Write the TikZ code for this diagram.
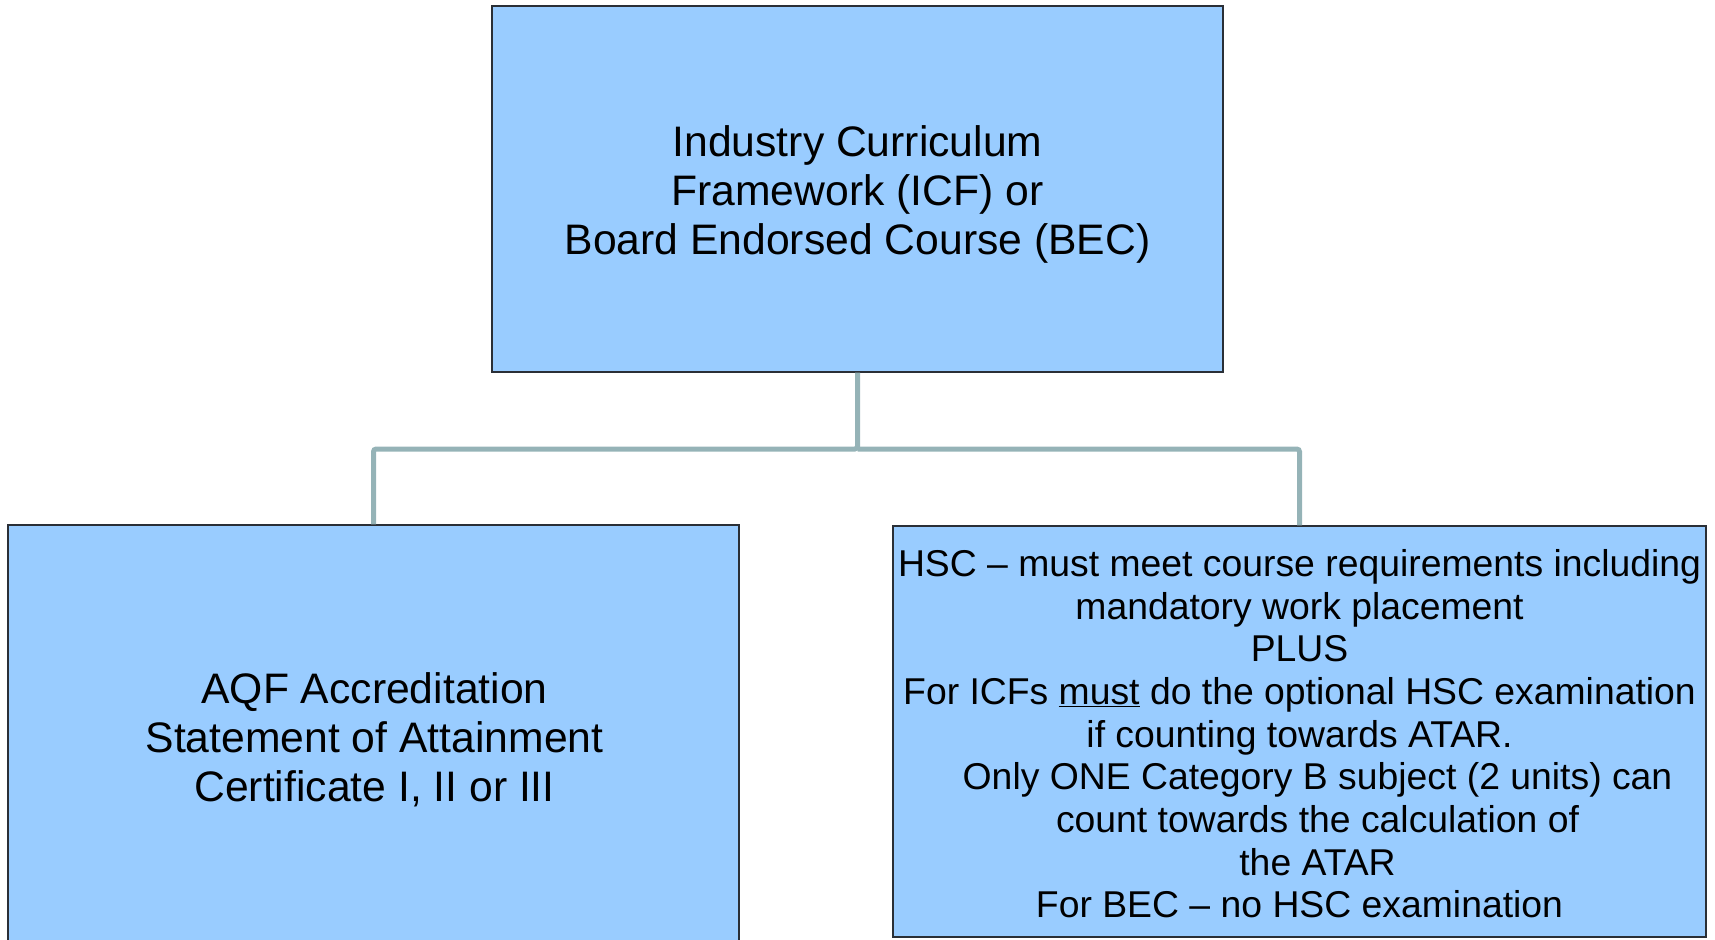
\documentclass[tikz,border=0pt]{standalone}
\usepackage{fontspec}
\setmainfont{Liberation Sans}
\definecolor{boxfill}{HTML}{99CCFF}
\definecolor{boxline}{HTML}{2A2F36}
\definecolor{conn}{HTML}{95B3B7}
\tikzset{
  orgbox/.style={draw=boxline, line width=1pt, fill=boxfill, inner sep=0pt},
  boxtext/.style={inner sep=0pt, align=center, text=black},
  bigtext/.style={font=\fontsize{32}{36.8}\selectfont},
  smalltext/.style={font=\fontsize{28}{32}\selectfont},
  connector/.style={draw=conn, line width=3.75pt, rounded corners=2pt}
}
\begin{document}
\begin{tikzpicture}[x=0.75pt,y=-0.75pt]
\clip (0,0) rectangle (1715,939);
\node[orgbox, minimum width=731*0.75pt, minimum height=366*0.75pt] (top) at (857.5,189) {};
\node[boxtext, bigtext] (toptext) at (857.5,194.5)
  {Industry Curriculum\\Framework (ICF) or\\Board Endorsed Course (BEC)};
\node[orgbox, minimum width=731*0.75pt, minimum height=425*0.75pt] (left) at (373.5,737.5) {};
\node[boxtext, bigtext] (lefttext) at (374.5,739.7)
  {AQF Accreditation\\Statement of Attainment\\Certificate I, II or III};
\node[orgbox, minimum width=813*0.75pt, minimum height=411*0.75pt] (right) at (1299.5,731.5) {};
\node[boxtext, smalltext] (righttext) at (1299.5,733.7)
  {HSC -- must meet course requirements including\\
   mandatory work placement\\
   PLUS\\
   For ICFs \underline{must} do the optional HSC examination\\
   if counting towards ATAR.\\
   \hspace*{27pt}Only ONE Category B subject (2 units) can\\
   \hspace*{27pt}count towards the calculation of\\
   \hspace*{27pt}the ATAR\\
   For BEC -- no HSC examination};
\coordinate (j) at (857.5,449);
\draw[connector] (top.south) -- (j) -| (left.north);
\draw[connector] (j) -| (right.north);
\end{tikzpicture}
\end{document}
